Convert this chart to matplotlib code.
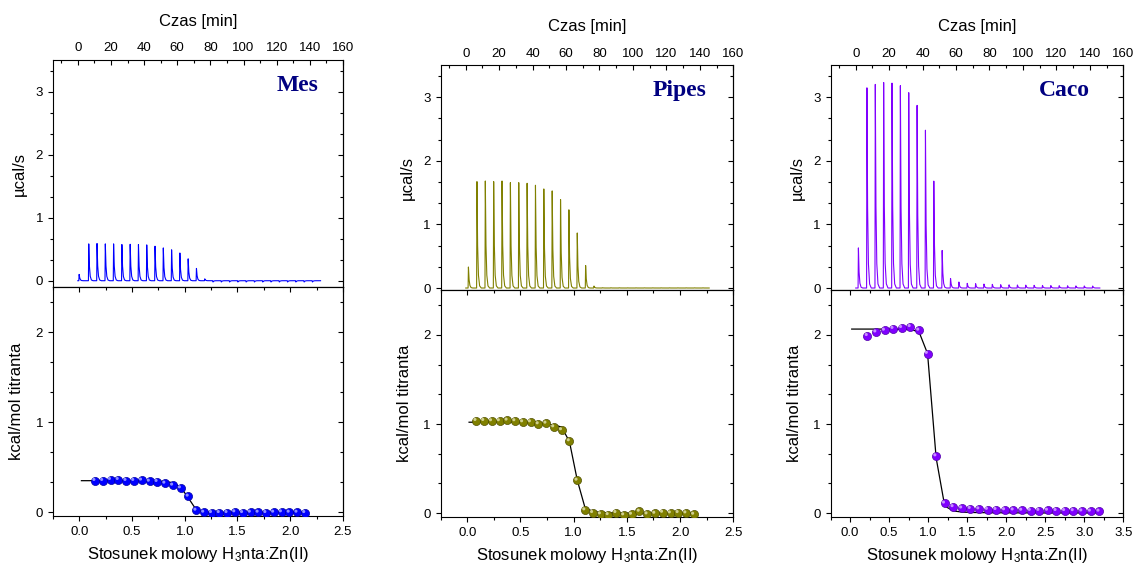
import numpy as np
import matplotlib
matplotlib.use("Agg")
import matplotlib.pyplot as plt
import matplotlib.transforms as mtransforms
from matplotlib.ticker import AutoMinorLocator, MultipleLocator, FormatStrFormatter

plt.rcParams['font.family'] = ['Liberation Sans', 'DejaVu Sans']
plt.rcParams['mathtext.fontset'] = 'custom'
plt.rcParams['mathtext.rm'] = 'Liberation Sans'
plt.rcParams['mathtext.it'] = 'Liberation Sans'

# ---- data ----
names = ["Mes", "Pipes", "Caco"]
line_colors = ["#0000ff", "#808000", "#8000ff"]
edge_colors = ["#0000a0", "#505000", "#5000a8"]
hi_colors = ["#9090ff", "#d0d090", "#c890ff"]

# thermograms: first small injection, then 28 regular injections (min, ucal/s)
small_t = [0.6, 1.4, 1.4]
small_h = [0.10, 0.33, 0.63]
first_t = [6.4, 6.5, 6.5]
step_t = 5.0
end_t = [146.5, 145.6, 146.0]
mes_peaks = [0.584, 0.59, 0.584, 0.584, 0.574, 0.578, 0.574, 0.568, 0.547, 0.52,
             0.49, 0.44, 0.347, 0.195, 0.03, -0.02, -0.02, -0.02, -0.02, -0.02,
             -0.02, -0.02, -0.02, -0.02, -0.02, -0.02, -0.02, -0.02]
pipes_peaks = [1.672, 1.682, 1.672, 1.682, 1.656, 1.656, 1.646, 1.615, 1.557, 1.526,
               1.39, 1.229, 0.865, 0.354, 0.031, 0.004, 0.003, 0.003, 0.002, 0.002,
               0.002, 0.002, 0.002, 0.002, 0.002, 0.002, 0.002, 0.002]
caco_peaks = [3.146, 3.20, 3.23, 3.22, 3.18, 3.07, 2.87, 2.48, 1.68, 0.59,
              0.15, 0.094, 0.073, 0.068, 0.062, 0.057, 0.052, 0.05, 0.047, 0.045,
              0.042, 0.04, 0.038, 0.036, 0.035, 0.033, 0.032, 0.031]
peaks = [mes_peaks, pipes_peaks, caco_peaks]

# integrated heats (kcal/mol titranta) vs molar ratio
mes_x = np.linspace(0.15, 2.14, 28)
mes_q = [0.352, 0.352, 0.363, 0.363, 0.352, 0.352, 0.356, 0.344, 0.341, 0.322,
         0.30, 0.27, 0.178, 0.022, 0.0, -0.004, -0.004, -0.004, 0.004, -0.004,
         0.0, 0.0, -0.004, 0.0, 0.004, 0.0, 0.0, -0.004]
mes_fit = [0.352, 0.352, 0.352, 0.352, 0.352, 0.352, 0.352, 0.351, 0.350, 0.348,
           0.343, 0.33, 0.28, 0.16, 0.03, 0.005, 0.001, 0.0, 0.0, 0.0,
           0.0, 0.0, 0.0, 0.0, 0.0, 0.0, 0.0, 0.0, 0.0]

pipes_x = np.linspace(0.084, 2.13, 29)
pipes_q = [1.037, 1.037, 1.034, 1.034, 1.041, 1.034, 1.022, 1.022, 1.0, 1.007,
           0.966, 0.933, 0.809, 0.367, 0.034, 0.004, -0.011, -0.019, 0.004, -0.022,
           -0.015, 0.019, -0.011, -0.004, 0.007, 0.0, 0.004, 0.0, -0.015]
pipes_fit = [1.02, 1.02, 1.02, 1.02, 1.02, 1.02, 1.02, 1.018, 1.015, 1.01,
             1.0, 0.99, 0.965, 0.80, 0.37, 0.06, 0.02, 0.008, 0.003, 0.002,
             0.001, 0.0, 0.0, 0.0, 0.0, 0.0, 0.0, 0.0, 0.0, 0.0]

caco_x = np.linspace(0.222, 3.192, 28)
caco_q = [1.99, 2.03, 2.05, 2.07, 2.08, 2.09, 2.05, 1.79, 0.64, 0.11,
          0.07, 0.055, 0.05, 0.045, 0.04, 0.038, 0.035, 0.033, 0.03, 0.028,
          0.028, 0.03, 0.027, 0.026, 0.025, 0.022, 0.02, 0.02]
caco_fit = [2.065, 2.065, 2.065, 2.065, 2.064, 2.062, 2.06, 2.035, 1.79, 0.62,
            0.08, 0.025, 0.012, 0.008, 0.006, 0.005, 0.004, 0.004, 0.003, 0.003,
            0.003, 0.002, 0.002, 0.002, 0.002, 0.002, 0.002, 0.002, 0.002]

fit_start = [0.02, 0.017, 0.02]
xs = [mes_x, pipes_x, caco_x]
qs = [mes_q, pipes_q, caco_q]
fits = [mes_fit, pipes_fit, caco_fit]
x_max = [2.5, 2.5, 3.5]

# ---- layout (figure fractions) ----
lefts = [0.0467, 0.3886, 0.7325]
widths = [0.2557, 0.258, 0.258]
top_box = [(0.4929, 0.401), (0.4871, 0.3975), (0.4871, 0.3975)]
bot_box = [(0.0883, 0.4046), (0.0871, 0.400), (0.0871, 0.400)]
top_ymin = [-0.1, -0.036, -0.036]
label_x = [0.917, 0.907, 0.886]


def trace(t0s, hs, t_end):
    t = [0.0]
    y = [0.0]
    for t0, h in zip(t0s, hs):
        t += [t0, t0 + 0.2, t0 + 0.6, t0 + 1.1, t0 + 1.8, t0 + 2.8]
        y += [0.0, h, 0.4 * h, 0.12 * h, 0.02 * h, 0.0]
    t.append(t_end)
    y.append(0.0)
    return t, y


def ticks(a, **kw):
    a.tick_params(which='major', length=3.6, width=0.8, **kw)
    a.tick_params(which='minor', length=2.0, width=0.8, **kw)


fig = plt.figure(figsize=(11.34, 5.66), dpi=100)

for i in range(3):
    # ---- top: raw thermogram ----
    ax_t = fig.add_axes([lefts[i], top_box[i][0], widths[i], top_box[i][1]])
    t_inj = [small_t[i]] + list(first_t[i] + step_t * np.arange(len(peaks[i])))
    h_inj = [small_h[i]] + peaks[i]
    tt, yy = trace(t_inj, h_inj, end_t[i])
    ax_t.plot(tt, yy, color=line_colors[i], lw=0.8)
    ax_t.set_xlim(-15, 160)
    ax_t.set_ylim(top_ymin[i], 3.5)
    ax_t.xaxis.tick_top()
    ax_t.xaxis.set_label_position('top')
    ax_t.xaxis.set_major_locator(MultipleLocator(20))
    ax_t.xaxis.set_minor_locator(AutoMinorLocator(2))
    ax_t.yaxis.set_major_locator(MultipleLocator(1))
    ax_t.yaxis.set_minor_locator(AutoMinorLocator(3))
    ax_t.tick_params(axis='x', which='both', direction='in', top=True, bottom=False,
                     labeltop=True, labelbottom=False, labelsize=9.5, pad=4)
    ax_t.tick_params(axis='y', which='both', direction='out', left=True, right=False,
                     labelsize=9.5)
    ticks(ax_t)
    ax_t.set_xlabel("Czas [min]", fontsize=12, labelpad=12)
    ax_t.set_ylabel("µcal/s", fontsize=12, labelpad=6)
    sec = ax_t.secondary_yaxis('right')
    sec.yaxis.set_major_locator(MultipleLocator(1))
    sec.yaxis.set_minor_locator(AutoMinorLocator(3))
    sec.tick_params(which='both', direction='in', labelright=False)
    ticks(sec)
    ax_t.text(label_x[i], 0.865, names[i], transform=ax_t.transAxes, ha='right',
              va='baseline', fontsize=17, fontweight='bold', color='#000080',
              family='Liberation Serif')
    for s in ax_t.spines.values():
        s.set_linewidth(0.8)

    # ---- bottom: integrated heats ----
    ax_b = fig.add_axes([lefts[i], bot_box[i][0], widths[i], bot_box[i][1]])
    fx = [fit_start[i]] + list(xs[i])
    ax_b.plot(fx, fits[i][:len(fx)], color='black', lw=0.9, zorder=2)
    ax_b.scatter(xs[i], qs[i], s=34, color=line_colors[i], edgecolors=edge_colors[i],
                 linewidths=0.5, zorder=3)
    hl = mtransforms.offset_copy(ax_b.transData, fig=fig, x=-0.9, y=0.9, units='points')
    ax_b.scatter(xs[i], qs[i], s=5, color=hi_colors[i], edgecolors='none',
                 transform=hl, zorder=4)
    ax_b.set_xlim(-0.25, x_max[i])
    ax_b.set_ylim(-0.04, 2.5)
    ax_b.xaxis.set_major_locator(MultipleLocator(0.5))
    ax_b.xaxis.set_minor_locator(AutoMinorLocator(2))
    ax_b.xaxis.set_major_formatter(FormatStrFormatter('%.1f'))
    ax_b.yaxis.set_major_locator(MultipleLocator(1))
    ax_b.yaxis.set_minor_locator(AutoMinorLocator(3))
    ax_b.tick_params(which='both', direction='out', top=False, right=False, labelsize=9.5)
    ticks(ax_b)
    ax_b.set_xlabel("Stosunek molowy H$_3$nta:Zn(II)", fontsize=12, labelpad=5)
    ax_b.set_ylabel("kcal/mol titranta", fontsize=12, labelpad=8)
    sx = ax_b.secondary_xaxis('top')
    sx.xaxis.set_major_locator(MultipleLocator(0.5))
    sx.xaxis.set_minor_locator(AutoMinorLocator(2))
    sx.tick_params(which='both', direction='in', labeltop=False)
    ticks(sx)
    sy = ax_b.secondary_yaxis('right')
    sy.yaxis.set_major_locator(MultipleLocator(1))
    sy.yaxis.set_minor_locator(AutoMinorLocator(3))
    sy.tick_params(which='both', direction='in', labelright=False)
    ticks(sy)
    for s in ax_b.spines.values():
        s.set_linewidth(0.8)

fig.savefig("out.png", dpi=100)
